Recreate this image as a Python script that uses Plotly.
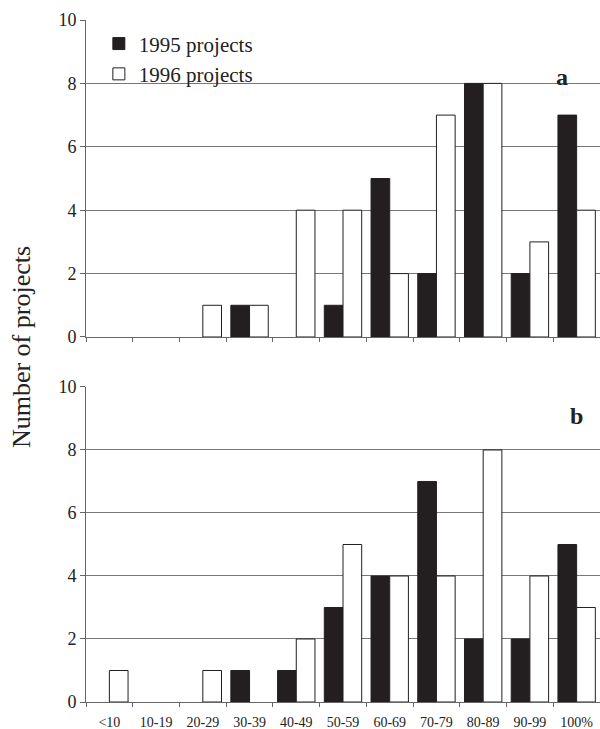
import plotly.graph_objects as go
from plotly.subplots import make_subplots

categories = ["<10", "10-19", "20-29", "30-39", "40-49", "50-59", "60-69", "70-79", "80-89", "90-99", "100%"]
a_1995 = [0, 0, 0, 1, 0, 1, 5, 2, 8, 2, 7]
a_1996 = [0, 0, 1, 1, 4, 4, 2, 7, 8, 3, 4]
b_1995 = [0, 0, 0, 1, 1, 3, 4, 7, 2, 2, 5]
b_1996 = [1, 0, 1, 0, 2, 5, 4, 4, 8, 4, 3]
y_ticks = [0, 2, 4, 6, 8, 10]

FONT = "Liberation Serif, Times New Roman, serif"
BLACK = "#231f20"


def nz(vals):
    # zero counts are not drawn as bars
    return [v if v else None for v in vals]


fig = make_subplots(rows=2, cols=1, shared_xaxes=False, vertical_spacing=0.07)

fig.add_trace(go.Bar(x=categories, y=nz(a_1995), name="1995 projects",
                     marker=dict(color=BLACK, line=dict(color=BLACK, width=1)), legendgroup="95"), row=1, col=1)
fig.add_trace(go.Bar(x=categories, y=nz(a_1996), name="1996 projects",
                     marker=dict(color="white", line=dict(color=BLACK, width=1)), legendgroup="96"), row=1, col=1)
fig.add_trace(go.Bar(x=categories, y=nz(b_1995), name="1995 projects", showlegend=False,
                     marker=dict(color=BLACK, line=dict(color=BLACK, width=1)), legendgroup="95"), row=2, col=1)
fig.add_trace(go.Bar(x=categories, y=nz(b_1996), name="1996 projects", showlegend=False,
                     marker=dict(color="white", line=dict(color=BLACK, width=1)), legendgroup="96"), row=2, col=1)

top_dom = [0.5352, 1.0]
bot_dom = [0.0, 0.4619]

xcommon = dict(type="category", categoryorder="array", categoryarray=categories,
               range=[-0.5, 10.5], showgrid=False, showline=True, linecolor="#666", linewidth=1,
               ticks="outside", tickson="boundaries", ticklen=4, tickcolor="#666",
               tickfont=dict(family=FONT, size=14, color="#222"))
ycommon = dict(range=[0, 10], tickvals=y_ticks, showgrid=True, gridcolor="#777", gridwidth=1,
               showline=True, linecolor="#666", linewidth=1, ticks="outside", ticklen=5,
               tickcolor="#666", zeroline=False,
               tickfont=dict(family=FONT, size=18, color="#222"))

fig.update_layout(
    xaxis=dict(**xcommon, showticklabels=False),
    xaxis2=dict(**xcommon, showticklabels=True, ticklabelstandoff=7),
    yaxis=dict(**ycommon, domain=top_dom),
    yaxis2=dict(**ycommon, domain=bot_dom),
)

fig.update_layout(
    width=600, height=729,
    margin=dict(l=86, r=0, t=20, b=27),
    paper_bgcolor="white", plot_bgcolor="white",
    barmode="group", bargap=0.2, bargroupgap=0,
    font=dict(family=FONT, color="#222"),
    legend=dict(x=0.025, y=0.995, xanchor="left", yanchor="top", bgcolor="rgba(0,0,0,0)",
                font=dict(family=FONT, size=21, color="#222"), tracegroupgap=0, itemwidth=30),
    annotations=[
        dict(text="Number of projects", xref="paper", yref="paper", x=-0.125, y=0.52,
             xanchor="center", yanchor="middle",
             textangle=-90, showarrow=False, font=dict(family=FONT, size=26, color="#222")),
        dict(text="<b>a</b>", xref="paper", yref="paper", x=0.926, y=0.916,
             xanchor="center", yanchor="middle",
             showarrow=False, font=dict(family=FONT, size=24, color="#222")),
        dict(text="<b>b</b>", xref="paper", yref="paper", x=0.955, y=0.419,
             xanchor="center", yanchor="middle",
             showarrow=False, font=dict(family=FONT, size=24, color="#222")),
    ],
)

fig.write_html("out.html", config={"displayModeBar": False},
               post_script="document.body.style.margin='0';document.body.style.overflow='hidden';")
